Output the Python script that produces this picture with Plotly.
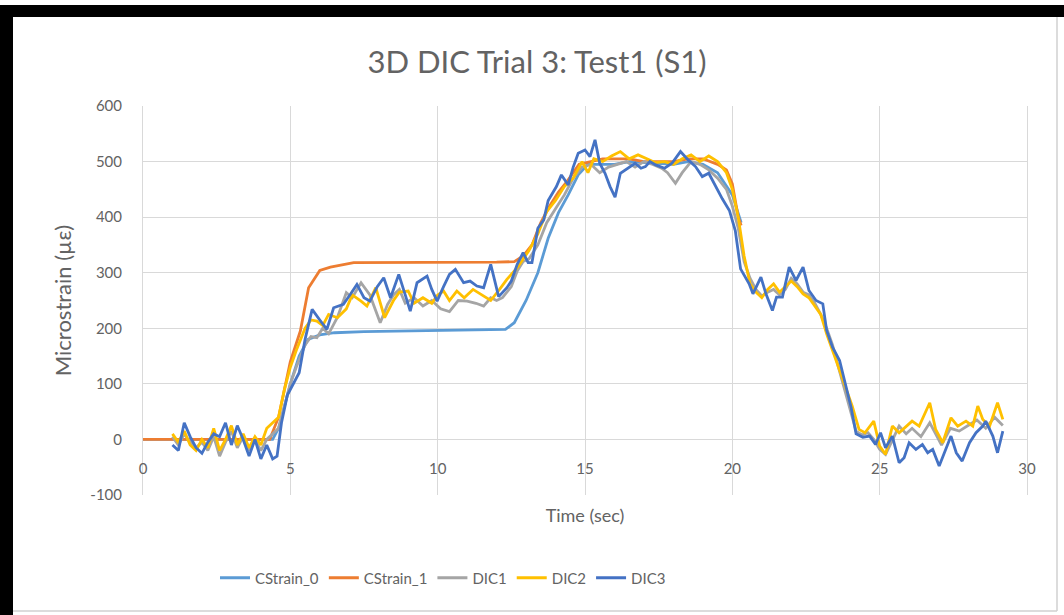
import plotly.graph_objects as go

# ---------------- data ----------------
cs0_t = [0, 1, 2, 3, 4, 4.4, 4.6, 5.0, 5.3, 5.6, 6.0, 6.5, 7.5, 8.5, 9.5, 10.5, 11.5, 12.3,
         12.6, 13.0, 13.4, 13.75, 14.1, 14.43, 14.77, 15.1, 15.5, 16.0, 16.5, 17.0, 17.5,
         18.0, 18.5, 19.0, 19.5, 20.0, 20.3]
cs0_v = [0, 0, 0, 0, 0, 0, 20, 100, 150, 180, 188, 192, 194, 195, 196, 196, 197, 198,
         210, 250, 300, 362, 408, 440, 476, 495, 495, 495, 500, 498, 497,
         495, 500, 495, 480, 440, 390]

cs1_t = [0, 1, 2, 3, 4, 4.3, 4.6, 5.0, 5.34, 5.62, 6.0, 6.36, 7.15, 8, 9, 10, 11, 12, 12.6,
         12.9, 13.2, 13.5, 13.8, 14.1, 14.4, 14.8, 15.2, 15.6, 16, 16.5, 17, 17.5, 18,
         18.5, 19, 19.5, 19.8, 20.0, 20.2, 20.3]
cs1_v = [0, 0, 0, 0, 0, 0, 40, 140, 195, 273, 304, 310, 318, 318, 319, 319, 319, 319, 320,
         330, 350, 390, 420, 445, 465, 495, 500, 505, 505, 505, 500, 500, 500,
         505, 505, 495, 485, 460, 400, 385]

dic1_t = [1.0, 1.2, 1.4, 1.6, 1.8, 2.0, 2.2, 2.4, 2.6, 2.8, 3.0, 3.2, 3.4, 3.6, 3.8, 4.0, 4.2,
          4.4, 4.6, 4.8, 5.0, 5.2, 5.5, 5.7, 5.9, 6.1, 6.3, 6.6, 6.9, 7.1, 7.4, 7.7, 8.05,
          8.3, 8.5, 8.7, 8.9, 9.2, 9.5, 9.8, 10.1, 10.4, 10.7, 11.0, 11.3, 11.56, 11.8, 12.0,
          12.2, 12.5, 12.7, 12.9, 13.1, 13.4, 13.7, 14.0, 14.3, 14.6, 14.9, 15.2, 15.5, 15.8,
          16.1, 16.4, 16.7, 17.0, 17.3, 17.6, 17.8, 18.07, 18.3, 18.6, 18.9, 19.2, 19.5, 19.8,
          20.0, 20.2, 20.4, 20.6, 20.8, 21.0, 21.2, 21.4, 21.6, 21.8, 22.0, 22.2, 22.4, 22.6,
          22.8, 23.0, 23.2, 23.4, 23.6, 23.8, 24.0, 24.2, 24.4, 24.6, 24.8, 25.0, 25.2, 25.43,
          25.66, 25.9, 26.1, 26.4, 26.7, 26.9, 27.1, 27.4, 27.7, 28.0, 28.3, 28.6, 28.9, 29.18]
dic1_v = [5, -10, 10, -5, -15, -5, -20, 5, -30, -5, 15, -15, 5, -20, 0, -20, 0,
          10, 20, 60, 100, 130, 170, 185, 183, 200, 190, 220, 264, 255, 282, 260, 210,
          243, 260, 270, 245, 255, 240, 250, 235, 230, 250, 249, 245, 240, 255, 250,
          255, 275, 303, 320, 325, 350, 390, 415, 440, 470, 490, 495, 480, 490,
          495, 500, 490, 500, 495, 488, 480, 461, 480, 500, 495, 485, 470, 450,
          420, 380, 320, 290, 270, 258, 265, 270, 260, 270, 290, 280, 265, 260,
          245, 225, 200, 170, 130, 90, 50, 15, 8, 12, 0, -18, -27, 0,
          24, 10, 20, 5, 30, 10, -10, 20, 15, 25, 35, 20, 40, 25]

dic2_t = [1.0, 1.2, 1.4, 1.6, 1.8, 2.0, 2.2, 2.4, 2.6, 2.8, 3.0, 3.2, 3.4, 3.6, 3.8, 4.0, 4.2,
          4.4, 4.6, 4.8, 5.0, 5.2, 5.5, 5.7, 5.9, 6.1, 6.3, 6.6, 6.9, 7.1, 7.4, 7.6, 7.9, 8.2,
          8.5, 8.7, 9.0, 9.2, 9.5, 9.8, 10.0, 10.2, 10.4, 10.65, 10.9, 11.2, 11.56, 11.8, 12.1,
          12.35, 12.7, 12.9, 13.1, 13.4, 13.7, 14.0, 14.3, 14.6, 14.9, 15.1, 15.3, 15.6, 15.9,
          16.2, 16.5, 16.8, 17.1, 17.4, 17.7, 18.0, 18.3, 18.6, 18.9, 19.2, 19.5, 19.8, 20.0,
          20.2, 20.4, 20.6, 20.8, 21.0, 21.2, 21.4, 21.6, 21.8, 22.0, 22.2, 22.4, 22.6, 22.8,
          23.0, 23.2, 23.4, 23.6, 23.8, 24.07, 24.3, 24.5, 24.8, 25.0, 25.2, 25.43, 25.66,
          25.9, 26.1, 26.34, 26.7, 26.9, 27.14, 27.42, 27.65, 27.93, 28.16, 28.33, 28.5,
          28.73, 29.0, 29.18]
dic2_v = [10, -5, 15, -10, -20, 0, -15, 20, -20, 0, 25, -10, 10, -15, 5, -10, 20,
          30, 40, 90, 130, 160, 200, 215, 213, 205, 225, 219, 235, 260, 249, 240, 273, 219,
          250, 265, 267, 245, 255, 245, 260, 267, 250, 267, 255, 270, 258, 250, 270,
          288, 309, 325, 340, 370, 410, 430, 455, 470, 500, 480, 505, 500, 510,
          518, 505, 512, 505, 498, 500, 495, 505, 512, 500, 510, 500, 480, 450,
          400, 330, 280, 265, 255, 270, 280, 265, 275, 285, 275, 262, 255, 240,
          225, 190, 160, 130, 100, 60, 18, 12, 33, -12, -27, 24, 12,
          24, 33, 24, 66, 18, -6, 39, 24, 33, 24, 60, 36,
          24, 66, 36]

dic3_t = [1.0, 1.2, 1.4, 1.6, 1.8, 2.0, 2.2, 2.4, 2.6, 2.8, 3.0, 3.2, 3.4, 3.6, 3.8, 4.0, 4.2,
          4.4, 4.55, 4.7, 4.9, 5.1, 5.3, 5.5, 5.74, 6.0, 6.24, 6.47, 6.8, 7.05, 7.26, 7.5, 7.7,
          7.95, 8.17, 8.4, 8.68, 8.9, 9.07, 9.3, 9.64, 9.8, 9.98, 10.2, 10.4, 10.6, 10.88,
          11.1, 11.33, 11.56, 11.8, 12.07, 12.35, 12.5, 12.7, 12.9, 13.07, 13.2, 13.4, 13.6,
          13.75, 14.03, 14.2, 14.43, 14.6, 14.77, 15.0, 15.17, 15.34, 15.5, 15.68, 15.85,
          16.02, 16.2, 16.36, 16.7, 16.9, 17.05, 17.2, 17.4, 17.7, 17.95, 18.24, 18.5, 18.75,
          18.98, 19.2, 19.43, 19.66, 19.9, 20.1, 20.28, 20.45, 20.57, 20.7, 20.97, 21.14,
          21.36, 21.5, 21.7, 21.93, 22.16, 22.4, 22.6, 22.84, 23.07, 23.2, 23.4, 23.64, 23.75,
          23.86, 24.03, 24.2, 24.43, 24.66, 24.86, 25.03, 25.2, 25.43, 25.66, 25.83, 26.0,
          26.23, 26.45, 26.63, 26.8, 27.02, 27.25, 27.42, 27.6, 27.8, 28.05, 28.27, 28.5,
          28.6, 28.84, 29.0, 29.18]
dic3_v = [-10, -20, 30, 5, -15, -25, -5, 10, 5, 30, -10, 25, 0, -30, 0, -35, -10,
          -35, -30, 30, 80, 100, 120, 180, 234, 215, 198, 237, 243, 262, 279, 255, 249,
          275, 291, 255, 297, 260, 231, 282, 294, 270, 249, 275, 297, 306, 282,
          285, 276, 273, 315, 257, 273, 285, 315, 336, 318, 318, 380, 395,
          430, 455, 476, 458, 490, 515, 521, 509, 539, 497, 479, 455,
          436, 479, 485, 497, 488, 491, 500, 494, 488, 497, 518, 503, 491,
          473, 479, 455, 433, 412, 376, 307, 290, 280, 262, 292, 262,
          232, 256, 256, 310, 286, 310, 268, 250, 244, 196, 166, 142, 118,
          94, 58, 10, 4, 6, -9, 12, -15, 6, -42, -33, -6,
          -18, -9, -24, -18, -48, -18, 6, -24, -39, -6, 12, 24,
          33, 6, -24, 15]

series_names = ["CStrain_0", "CStrain_1", "DIC1", "DIC2", "DIC3"]
series_colors = ["#5B9BD5", "#ED7D31", "#A5A5A5", "#FFC000", "#4472C4"]
series_t = [cs0_t, cs1_t, dic1_t, dic2_t, dic3_t]
series_v = [cs0_v, cs1_v, dic1_v, dic2_v, dic3_v]

x_ticks = [0, 5, 10, 15, 20, 25, 30]
y_ticks = [-100, 0, 100, 200, 300, 400, 500, 600]
y_tick_labels = ["-100", "0", "100", "200", "300", "400", "500", "600"]

# ---------------- figure ----------------
W, H = 1064, 615
L, R, T, B = 143, 37, 106, 120
pw, ph = W - L - R, H - T - B

def px(x):
    return (x - L) / pw

def py(y):
    return (H - B - y) / ph

FONT = "Lato, Open Sans, sans-serif"
GRAY = "#636363"
GRID = "#D9D9D9"

fig = go.Figure()
for n, c, t, v in zip(series_names, series_colors, series_t, series_v):
    fig.add_trace(go.Scatter(x=t, y=v, mode="lines", name=n,
                             line=dict(color=c, width=2.8)))

fig.update_layout(
    width=W, height=H,
    margin=dict(l=L, r=R, t=T, b=B, autoexpand=False),
    paper_bgcolor="white", plot_bgcolor="white",
    font=dict(family=FONT, color=GRAY, size=15),
    title=dict(text="3D DIC Trial 3: Test1 (S1)", x=537 / W, xref="container",
               xanchor="center", y=1 - 62 / H, yref="container", yanchor="middle",
               font=dict(size=31, color=GRAY, family=FONT)),
    xaxis=dict(range=[0, 30], tickvals=x_ticks, showgrid=True, gridcolor=GRID,
               gridwidth=1, zeroline=False, showline=False, ticks="",
               anchor="free", position=100 / 700,
               ticklabelstandoff=19,
               tickfont=dict(size=15, color=GRAY),
               title=dict(text="Time (sec)", font=dict(size=18, color=GRAY),
                          standoff=32)),
    yaxis=dict(range=[-100, 600], tickvals=y_ticks, ticktext=y_tick_labels,
               showgrid=True, gridcolor=GRID,
               gridwidth=1, zeroline=True, zerolinecolor=GRID, zerolinewidth=1,
               showline=True, mirror=True, linecolor=GRID, linewidth=1, ticks="",
               ticklabelstandoff=17,
               tickfont=dict(size=15, color=GRAY),
               title=dict(text="Microstrain (µε)", font=dict(size=22, color=GRAY),
                          standoff=12)),
    legend=dict(orientation="h", x=px(443), xanchor="center", y=py(578),
                yanchor="middle", font=dict(size=15, color=GRAY),
                bgcolor="rgba(0,0,0,0)", itemwidth=30, tracegroupgap=0),
    showlegend=True,
)

# outer frame of the picture (black top/left, light gray right/bottom)
shapes = [
    dict(type="rect", xref="paper", yref="paper", x0=px(0), x1=px(W), y0=py(17), y1=py(5),
         fillcolor="black", line=dict(width=0), layer="above"),
    dict(type="rect", xref="paper", yref="paper", x0=px(0), x1=px(13), y0=py(H), y1=py(5),
         fillcolor="black", line=dict(width=0), layer="above"),
    dict(type="line", xref="paper", yref="paper", x0=px(1057), x1=px(1057), y0=py(611), y1=py(17),
         line=dict(color="#D0D0D0", width=1.5), layer="above"),
    dict(type="line", xref="paper", yref="paper", x0=px(13), x1=px(1057), y0=py(611), y1=py(611),
         line=dict(color="#D0D0D0", width=1.5), layer="above"),
]
fig.update_layout(shapes=shapes)

fig.write_html("out.html", config={"displayModeBar": False},
               post_script="document.body.style.margin='0';")
